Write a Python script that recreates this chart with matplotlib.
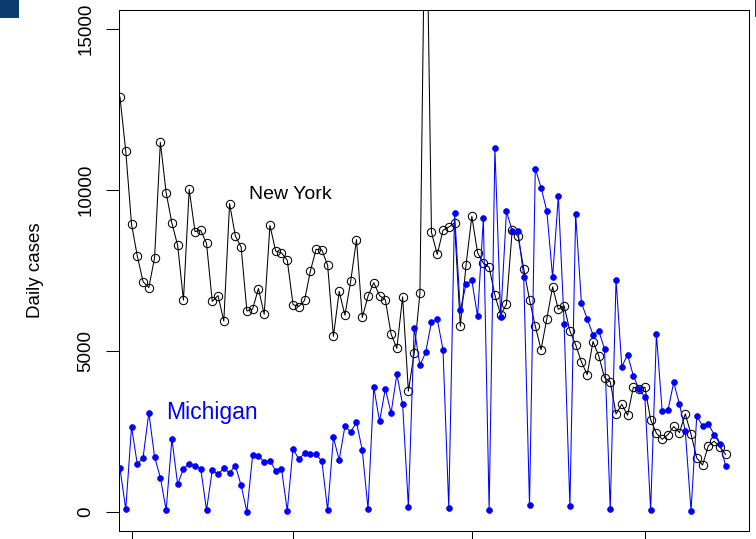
import matplotlib
matplotlib.use("Agg")
import matplotlib.pyplot as plt
import pandas as pd
from matplotlib.patches import Rectangle
from matplotlib.ticker import NullFormatter
import matplotlib.dates as mdates

# Daily reported COVID-19 cases, one value per day
start_date = "2021-01-30"

new_york = [12890, 11210, 8940, 7950, 7150, 6970, 7900, 11490, 9920, 8970,
            8280, 6580, 10020, 8710, 8750, 8340, 6540, 6720, 5930, 9580,
            8570, 8230, 6240, 6300, 6940, 6140, 8900, 8100, 8050, 7820,
            6440, 6380, 6570, 7480, 8160, 8140, 7660, 5450, 6850, 6110,
            7170, 8460, 6040, 6700, 7120, 6720, 6590, 5520, 5080, 6680,
            3750, 4920, 6800, 21000, 8690, 8000, 8750, 8850, 8980, 5770,
            7680, 9180, 8050, 7730, 7600, 6730, 6120, 6450, 8750, 8560,
            7550, 6590, 5770, 5040, 6000, 6990, 6290, 6400, 5620, 5190,
            4660, 4260, 5290, 4850, 4170, 4040, 3040, 3340, 3000, 3870,
            3830, 3870, 2860, 2440, 2250, 2400, 2650, 2460, 3040, 2410,
            1670, 1450, 2050, 2190, 2020, 1780]

michigan = [1350, 70, 2640, 1480, 1680, 3080, 1700, 1060, 50, 2260,
            850, 1340, 1490, 1430, 1340, 50, 1290, 1160, 1350, 1210,
            1430, 820, 0, 1760, 1740, 1540, 1590, 1270, 1340, 30,
            1960, 1630, 1820, 1800, 1790, 1570, 50, 2310, 1610, 2660,
            2480, 2780, 1920, 90, 3870, 2810, 3820, 3070, 4270, 3340,
            150, 5720, 4550, 4960, 5900, 5990, 5040, 120, 9300, 6260,
            7070, 7190, 6070, 9120, 40, 11310, 6040, 9340, 8740, 8730,
            7300, 200, 10670, 10080, 9350, 7290, 9820, 5850, 170, 9250,
            6490, 6000, 5500, 5630, 5060, 70, 7220, 4510, 4880, 4230,
            3800, 3560, 40, 5520, 3120, 3150, 4020, 3340, 2520, 30,
            2980, 2660, 2730, 2400, 2110, 1430]

y_ticks = [0, 5000, 10000, 15000]
series_labels = ["New York", "Michigan"]
y_title = "Daily cases"

plt.rcParams['font.family'] = ['Liberation Sans', 'DejaVu Sans']

W, H = 756, 539
dates = pd.date_range(start_date, periods=len(new_york), freq="D").to_pydatetime()
day0 = mdates.date2num(dates[0])

fig = plt.figure(figsize=(W / 100, H / 100), dpi=100)
ax = fig.add_axes([119.3 / W, 8 / H, 629.4 / W, 521 / H])

ax.plot(dates, new_york, color='black', lw=0.75, marker='o', ms=6.0,
        mfc='none', mec='black', mew=0.75, zorder=2)
ax.plot(dates, michigan, color='#0000ff', lw=0.75, marker='o', ms=4.3,
        mfc='#0000ff', mec='#0000ff', mew=0.4, zorder=3)

ax.set_ylim(-600, 15600)
ax.set_xlim(day0 - 0.12, day0 + 109.0)

ax.set_yticks(y_ticks)
ax.set_yticklabels([str(v) for v in y_ticks], rotation=90, va='center')
ax.tick_params(axis='y', length=9.1, width=0.75, pad=9, labelsize=13.5,
               color='black', labelcolor='black')

ax.xaxis.set_major_locator(mdates.MonthLocator())
ax.xaxis.set_major_formatter(NullFormatter())
ax.tick_params(axis='x', length=9, width=0.75, color='black')

for sp in ax.spines.values():
    sp.set_linewidth(0.75)
    sp.set_color('black')

ax.text(day0 + 29.5, 9730, series_labels[0], ha='center', va='baseline',
        fontsize=14, color='black')
ax.text(day0 + 15.9, 2870, series_labels[1], ha='center', va='baseline',
        fontsize=16.6, color='#0000ff')

fig.text(35 / W, 1 - 270 / H, y_title, rotation=90, ha='center', va='center',
         fontsize=13.5)

# navy corner marks along the top edge
fig.patches.append(Rectangle((0, 1 - 18 / H), 19 / W, 18 / H,
                             transform=fig.transFigure, color='#0b3c6e', lw=0))
fig.patches.append(Rectangle((755 / W, 1 - 17 / H), 1 / W, 17 / H,
                             transform=fig.transFigure, color='#0b3c6e', lw=0))

fig.savefig("out.png", dpi=100)
